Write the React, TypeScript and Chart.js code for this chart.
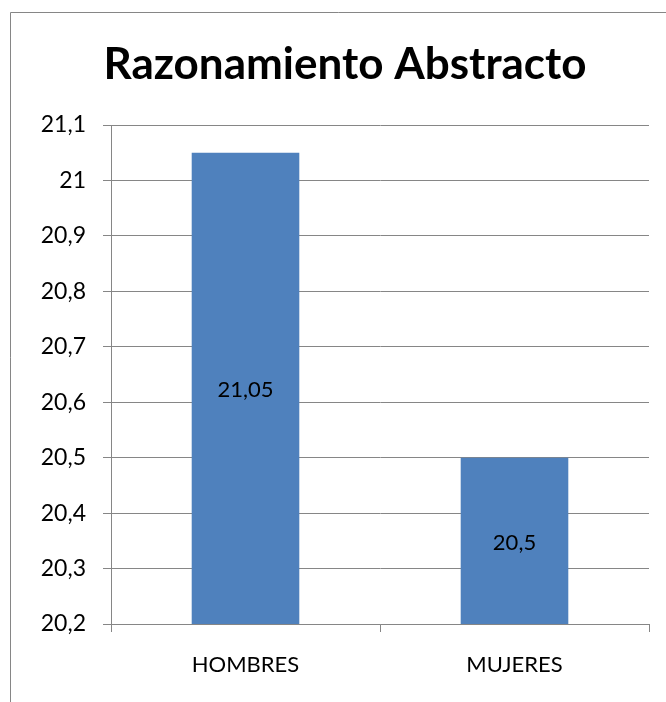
import React, { useEffect, useRef } from "react";
import { Chart, registerables } from "chart.js";

Chart.register(...registerables);

const categories = ["HOMBRES", "MUJERES"];
const values = [21.05, 20.5];
const titleText = "Razonamiento Abstracto";
const yMin = 20.2;
const yMax = 21.1;
const yStep = 0.1;

const FONT = "Lato, 'Open Sans', sans-serif";
const GRAY = "#868686";

const fmt = (v: number) => {
  const r = Math.round(v * 100) / 100;
  return String(r).replace(".", ",");
};

export default function App() {
  const ref = useRef<HTMLCanvasElement | null>(null);
  useEffect(() => {
    const canvas = ref.current!;
    const framePlugin = {
      id: "frame",
      beforeDraw(chart: any) {
        const ctx = chart.ctx;
        ctx.save();
        ctx.fillStyle = "#ffffff";
        ctx.fillRect(0, 0, chart.width, chart.height);
        ctx.strokeStyle = GRAY;
        ctx.lineWidth = 1;
        ctx.beginPath();
        ctx.moveTo(10.5, chart.height);
        ctx.lineTo(10.5, 12.5);
        ctx.lineTo(chart.width, 12.5);
        ctx.stroke();
        ctx.fillStyle = "#000";
        ctx.font = `bold 44px ${FONT}`;
        ctx.textAlign = "center";
        ctx.textBaseline = "alphabetic";
        ctx.fillText(titleText, 345, 79);
        ctx.restore();
      },
      afterDraw(chart: any) {
        const ctx = chart.ctx;
        const xs = chart.scales.x;
        const ys = chart.scales.y;
        ctx.save();
        ctx.fillStyle = "#000";
        ctx.font = `22px ${FONT}`;
        ctx.textAlign = "center";
        ctx.textBaseline = "middle";
        values.forEach((v, i) => {
          const x = xs.getPixelForValue(i);
          const y = (ys.getPixelForValue(v) + ys.getPixelForValue(yMin)) / 2;
          ctx.fillText(fmt(v), x, y + 2);
        });
        ctx.restore();
      },
    };
    const chart = new Chart(canvas, {
      type: "bar",
      data: {
        labels: categories,
        datasets: [
          {
            data: values,
            backgroundColor: "#4F81BD",
            borderWidth: 0,
            barPercentage: 0.4,
            categoryPercentage: 1,
          },
        ],
      },
      options: {
        responsive: false,
        animation: false,
        devicePixelRatio: 1,
        layout: { padding: { top: 125, right: 17, left: 0, bottom: 0 } },
        plugins: {
          legend: { display: false },
          title: { display: false },
          tooltip: { enabled: false },
        },
        scales: {
          x: {
            offset: true,
            grid: {
              offset: true,
              drawOnChartArea: false,
              color: GRAY,
              tickLength: 8,
            },
            border: { color: GRAY },
            ticks: {
              color: "#000",
              font: { family: FONT, size: 22 },
              padding: 20,
            },
            afterFit(scale: any) {
              scale.height = 78;
            },
          },
          y: {
            min: yMin,
            max: yMax,
            grid: { color: GRAY, tickLength: 8 },
            border: { color: GRAY },
            ticks: {
              stepSize: yStep,
              color: "#000",
              font: { family: FONT, size: 23 },
              padding: 17,
              callback: (v: any) => fmt(Number(v)),
            },
            afterFit(scale: any) {
              scale.width = 111;
            },
          },
        },
      },
      plugins: [framePlugin],
    });
    return () => chart.destroy();
  }, []);
  return (
    <div style={{ position: "fixed", left: 0, top: 0, width: 666, height: 702 }}>
      <canvas ref={ref} width={666} height={702} style={{ display: "block" }} />
    </div>
  );
}
